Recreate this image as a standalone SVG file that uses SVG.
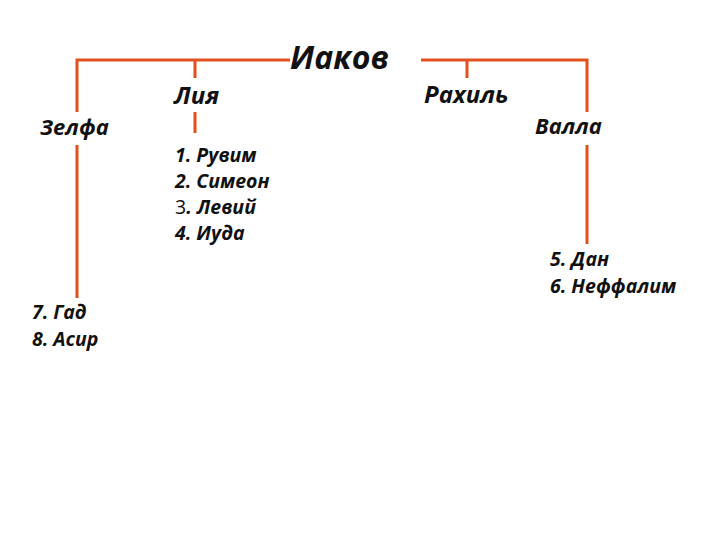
<svg xmlns="http://www.w3.org/2000/svg" width="720" height="540" viewBox="0 0 720 540">
<style>
text{font-family:"Open Sans","Noto Sans","Liberation Sans",sans-serif;font-style:italic;font-weight:bold;fill:#111}
.l{stroke:#E2501E;stroke-width:3;fill:none}
.n{font-size:22px}
.m{font-size:24px}
.s{font-size:19.5px}
</style>
<rect width="720" height="540" fill="#fff"/>
<g id="connectors">
<path class="l" d="M290 60H77V112M77 145V298"/>
<path class="l" d="M195 60V78M195 112V133"/>
<path class="l" d="M421 60H587V112M587 145V244"/>
<path class="l" d="M467 60V78"/>
</g>
<g id="jacob"><text x="290" y="69" style="font-size:32px">Иаков</text></g>
<g id="zelfa"><text x="40" y="135" class="n">Зелфа</text></g>
<g id="liya"><text x="174" y="104" class="m">Лия</text></g>
<g id="rakhil"><text x="424" y="103" class="m">Рахиль</text></g>
<g id="valla"><text x="535" y="134" class="n">Валла</text></g>
<g id="sons-liya">
<text x="175" y="162" class="s">1. Рувим</text>
<text x="175" y="188" class="s">2. Симеон</text>
<text x="175" y="214" class="s"><tspan style="font-weight:normal;font-style:normal">3</tspan>. Левий</text>
<text x="175" y="240" class="s">4. Иуда</text>
</g>
<g id="sons-valla">
<text x="550" y="266" class="s">5. Дан</text>
<text x="550" y="293" class="s">6. Неффалим</text>
</g>
<g id="sons-zelfa">
<text x="32" y="319" class="s">7. Гад</text>
<text x="32" y="346" class="s">8. Асир</text>
</g>
</svg>
